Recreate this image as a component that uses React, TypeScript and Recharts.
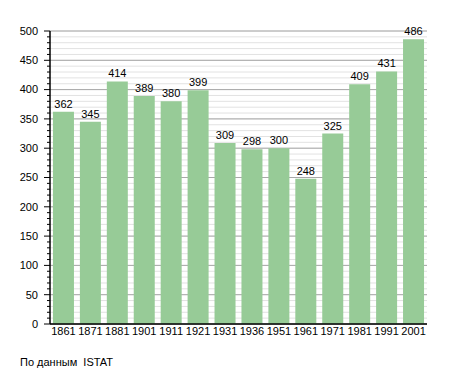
import React from "react";
import { Bar, BarChart, CartesianGrid, LabelList, XAxis, YAxis } from "recharts";

const years = ["1861", "1871", "1881", "1901", "1911", "1921", "1931", "1936", "1951", "1961", "1971", "1981", "1991", "2001"];
const population = [362, 345, 414, 389, 380, 399, 309, 298, 300, 248, 325, 409, 431, 486];
const minorTicks = Array.from({ length: 51 }, (_, i) => i * 10);
const majorTicks = [0, 50, 100, 150, 200, 250, 300, 350, 400, 450, 500];

const data = years.map((year, i) => ({ year, value: population[i] }));

const font = "'Liberation Sans', Arial, sans-serif";

function YTick(props: any) {
  const { x, y, payload } = props;
  const major = payload.value % 50 === 0;
  return (
    <g>
      <line x1={x - (major ? 6 : 3)} x2={x} y1={y} y2={y} stroke="#000" strokeWidth={1} />
      {major && (
        <text x={x - 12} y={y} dy="0.35em" textAnchor="end" fontSize={11} fill="#000" fontFamily={font}>
          {payload.value}
        </text>
      )}
    </g>
  );
}

export default function App() {
  return (
    <div style={{ position: "absolute", left: 0, top: 0, width: 455, height: 373, background: "#fff", fontFamily: font }}>
      <BarChart
        width={455}
        height={373}
        data={data}
        barCategoryGap="11%"
        margin={{ top: 31, right: 28, left: 0, bottom: 19 }}
      >
        <CartesianGrid vertical={false} horizontalValues={minorTicks} stroke="#e2e2e2" />
        <CartesianGrid vertical={false} horizontalValues={majorTicks} stroke="#a8a8a8" />
        <XAxis
          dataKey="year"
          height={30}
          axisLine={{ stroke: "#000", strokeWidth: 1.5 }}
          tickLine={false}
          tick={{ fontSize: 11, fill: "#000", fontFamily: font, dy: -4 }}
          tickMargin={1}
          interval={0}
        />
        <YAxis
          width={50}
          domain={[0, 500]}
          ticks={minorTicks}
          interval={0}
          axisLine={{ stroke: "#000", strokeWidth: 1.5 }}
          tickLine={false}
          tickSize={0}
          tickMargin={0}
          tick={<YTick />}
        />
        <Bar dataKey="value" fill="#97cb97" isAnimationActive={false}>
          <LabelList dataKey="value" position="top" offset={4} fontSize={11} fill="#000" fontFamily={font} />
        </Bar>
      </BarChart>
      <div style={{ position: "absolute", left: 20, top: 356, fontSize: 11, color: "#000", whiteSpace: "pre" }}>
        По данным  ISTAT
      </div>
    </div>
  );
}
